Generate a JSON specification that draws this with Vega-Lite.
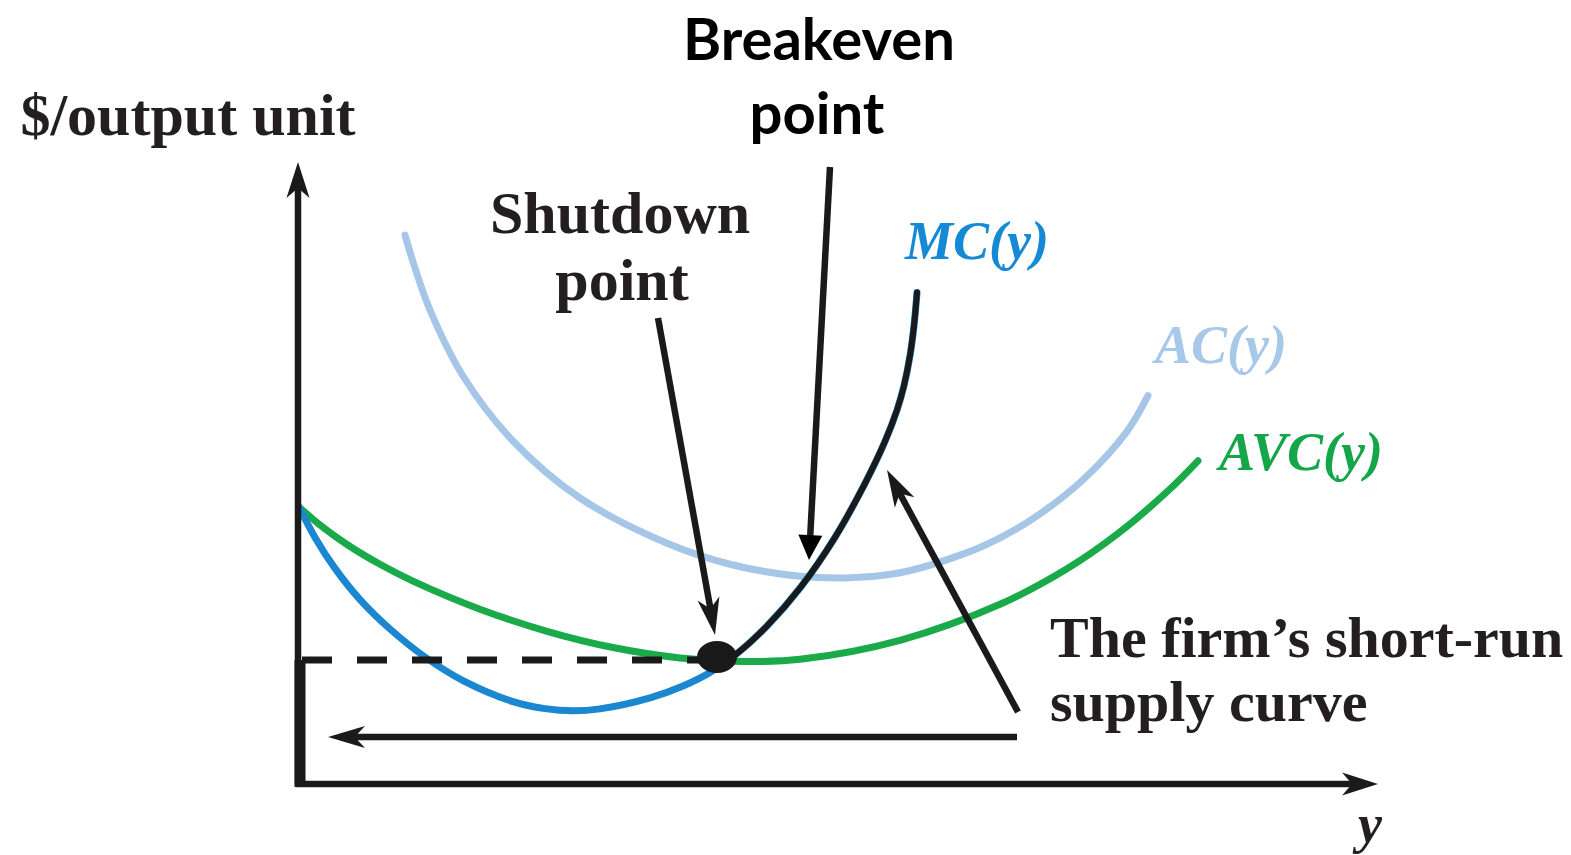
{
  "$schema": "https://vega.github.io/schema/vega-lite/v6.json",
  "width": 1571,
  "height": 855,
  "autosize": {"type": "fit", "contains": "padding"},
  "padding": 0,
  "background": "white",
  "config": {"view": {"stroke": null}},
  "datasets": {
    "curves": [
      {"series": "AC", "x": 1.07, "y": 5.49},
      {"series": "AC", "x": 1.17, "y": 5.16},
      {"series": "AC", "x": 1.32, "y": 4.74},
      {"series": "AC", "x": 1.65, "y": 4.08},
      {"series": "AC", "x": 2.15, "y": 3.43},
      {"series": "AC", "x": 2.82, "y": 2.86},
      {"series": "AC", "x": 3.69, "y": 2.408},
      {"series": "AC", "x": 4.35, "y": 2.19},
      {"series": "AC", "x": 5.02, "y": 2.078},
      {"series": "AC", "x": 5.52, "y": 2.063},
      {"series": "AC", "x": 6.02, "y": 2.113},
      {"series": "AC", "x": 6.69, "y": 2.314},
      {"series": "AC", "x": 7.02, "y": 2.462},
      {"series": "AC", "x": 7.35, "y": 2.653},
      {"series": "AC", "x": 7.85, "y": 3.043},
      {"series": "AC", "x": 8.29, "y": 3.527},
      {"series": "AC", "x": 8.5, "y": 3.884},
      {"series": "AVC", "x": 0.01, "y": 2.77},
      {"series": "AVC", "x": 0.22, "y": 2.59},
      {"series": "AVC", "x": 0.49, "y": 2.395},
      {"series": "AVC", "x": 0.82, "y": 2.197},
      {"series": "AVC", "x": 1.15, "y": 2.029},
      {"series": "AVC", "x": 1.82, "y": 1.748},
      {"series": "AVC", "x": 2.49, "y": 1.527},
      {"series": "AVC", "x": 3.15, "y": 1.365},
      {"series": "AVC", "x": 3.82, "y": 1.261},
      {"series": "AVC", "x": 4.47, "y": 1.225},
      {"series": "AVC", "x": 5.02, "y": 1.247},
      {"series": "AVC", "x": 6.02, "y": 1.437},
      {"series": "AVC", "x": 7.02, "y": 1.797},
      {"series": "AVC", "x": 7.69, "y": 2.152},
      {"series": "AVC", "x": 8.19, "y": 2.497},
      {"series": "AVC", "x": 8.69, "y": 2.922},
      {"series": "AVC", "x": 9.0, "y": 3.232},
      {"series": "MC", "x": 0.01, "y": 2.77},
      {"series": "MC", "x": 0.17, "y": 2.466},
      {"series": "MC", "x": 0.37, "y": 2.156},
      {"series": "MC", "x": 0.62, "y": 1.844},
      {"series": "MC", "x": 0.92, "y": 1.55},
      {"series": "MC", "x": 1.27, "y": 1.27},
      {"series": "MC", "x": 1.65, "y": 1.034},
      {"series": "MC", "x": 2.15, "y": 0.824},
      {"series": "MC", "x": 2.47, "y": 0.754},
      {"series": "MC", "x": 2.75, "y": 0.732},
      {"series": "MC", "x": 3.02, "y": 0.751},
      {"series": "MC", "x": 3.52, "y": 0.861},
      {"series": "MC", "x": 3.85, "y": 0.98},
      {"series": "MC", "x": 4.12, "y": 1.115},
      {"series": "MC", "x": 4.39, "y": 1.304},
      {"series": "MC", "x": 4.69, "y": 1.58},
      {"series": "MC", "x": 5.02, "y": 1.96},
      {"series": "MC", "x": 5.37, "y": 2.467},
      {"series": "MC", "x": 5.67, "y": 3.007},
      {"series": "MC", "x": 5.87, "y": 3.427},
      {"series": "MC", "x": 5.99, "y": 3.739},
      {"series": "MC", "x": 6.06, "y": 3.984},
      {"series": "MC", "x": 6.12, "y": 4.284},
      {"series": "MC", "x": 6.16, "y": 4.584},
      {"series": "MC", "x": 6.19, "y": 4.914},
      {"series": "Supply", "x": 4.19, "y": 1.17},
      {"series": "Supply", "x": 4.39, "y": 1.304},
      {"series": "Supply", "x": 4.69, "y": 1.58},
      {"series": "Supply", "x": 5.02, "y": 1.96},
      {"series": "Supply", "x": 5.37, "y": 2.467},
      {"series": "Supply", "x": 5.67, "y": 3.007},
      {"series": "Supply", "x": 5.87, "y": 3.427},
      {"series": "Supply", "x": 5.99, "y": 3.739},
      {"series": "Supply", "x": 6.06, "y": 3.984},
      {"series": "Supply", "x": 6.12, "y": 4.284},
      {"series": "Supply", "x": 6.16, "y": 4.584},
      {"series": "Supply", "x": 6.19, "y": 4.914},
      {"series": "ShutdownPrice", "x": 0.04, "y": 1.24},
      {"series": "ShutdownPrice", "x": 4.19, "y": 1.24}
    ],
    "segments": [
      {"segment": "Supply at zero output", "x": 0.02, "y": 1.24, "x2": 0.02, "y2": -0.03}
    ],
    "arrows": [
      {"arrow": "y axis", "x": 0, "y": 0, "x2": 0, "y2": 6.04, "tipx": 0, "tipy": 6.22},
      {"arrow": "x axis", "x": -0.02, "y": 0, "x2": 10.62, "y2": 0, "tipx": 10.8, "tipy": 0},
      {"arrow": "breakeven", "x": 5.32, "y": 6.17, "x2": 5.12, "y2": 2.44, "tipx": 5.11, "tipy": 2.24},
      {"arrow": "shutdown", "x": 3.6, "y": 4.66, "x2": 4.15, "y2": 1.61, "tipx": 4.17, "tipy": 1.49},
      {"arrow": "supply", "x": 7.2, "y": 0.72, "x2": 5.95, "y2": 3.03, "tipx": 5.89, "tipy": 3.14},
      {"arrow": "zero output", "x": 7.19, "y": 0.47, "x2": 0.42, "y2": 0.47, "tipx": 0.3, "tipy": 0.47}
    ],
    "points": [
      {"point": "Shutdown point", "x": 4.19, "y": 1.27}
    ],
    "labels": [
      {"kind": "serifCenter", "text": "$/output unit", "x": -1.1, "y": 6.49},
      {"kind": "serifCenter", "text": "Shutdown", "x": 3.22, "y": 5.51},
      {"kind": "serifCenter", "text": "point", "x": 3.24, "y": 4.84},
      {"kind": "serifLeft", "text": "The firm’s short-run", "x": 7.52, "y": 1.27},
      {"kind": "serifLeft", "text": "supply curve", "x": 7.52, "y": 0.63},
      {"kind": "sans", "text": "Breakeven", "x": 5.21, "y": 7.24},
      {"kind": "sans", "text": "point", "x": 5.19, "y": 6.5},
      {"kind": "italic", "text": "MC(y)", "x": 6.79, "y": 5.25},
      {"kind": "italic", "text": "AC(y)", "x": 9.23, "y": 4.21},
      {"kind": "italic", "text": "AVC(y)", "x": 10.03, "y": 3.14},
      {"kind": "italic", "text": "y", "x": 10.72, "y": -0.58}
    ]
  },
  "encoding": {
    "x": {"field": "x", "type": "quantitative", "scale": {"domain": [-2.98, 12.73], "nice": false, "zero": false}, "axis": null},
    "y": {"field": "y", "type": "quantitative", "scale": {"domain": [-0.71, 7.84], "nice": false, "zero": false}, "axis": null}
  },
  "layer": [
    {
      "data": {"name": "curves"},
      "transform": [{"filter": "datum.series === 'AC'"}],
      "mark": {"type": "line", "color": "#a6c6e8", "strokeWidth": 7, "interpolate": "catmull-rom", "strokeCap": "round"}
    },
    {
      "data": {"name": "curves"},
      "transform": [{"filter": "datum.series === 'AVC'"}],
      "mark": {"type": "line", "color": "#1aaa4a", "strokeWidth": 7, "interpolate": "catmull-rom", "strokeCap": "round"}
    },
    {
      "data": {"name": "curves"},
      "transform": [{"filter": "datum.series === 'MC'"}],
      "mark": {"type": "line", "color": "#1a87d0", "strokeWidth": 7, "interpolate": "catmull-rom", "strokeCap": "round"}
    },
    {
      "data": {"name": "curves"},
      "transform": [{"filter": "datum.series === 'ShutdownPrice'"}],
      "mark": {"type": "line", "color": "#1a1a1a", "strokeWidth": 7, "strokeDash": [30, 25]}
    },
    {
      "data": {"name": "curves"},
      "transform": [{"filter": "datum.series === 'Supply'"}],
      "mark": {"type": "line", "color": "#1a1a1a", "strokeWidth": 6, "interpolate": "catmull-rom", "strokeCap": "round"}
    },
    {
      "data": {"name": "segments"},
      "mark": {"type": "rule", "color": "#1a1a1a", "strokeWidth": 11},
      "encoding": {"x2": {"field": "x2"}, "y2": {"field": "y2"}}
    },
    {
      "data": {"name": "arrows"},
      "mark": {"type": "rule", "color": "#1a1a1a", "strokeWidth": 6.5},
      "encoding": {"x2": {"field": "x2"}, "y2": {"field": "y2"}}
    },
    {
      "data": {"name": "arrows"},
      "transform": [{"filter": "datum.arrow === 'y axis'"}],
      "mark": {"type": "point", "shape": "M0,0L0.32,1L0,0.72L-0.32,1Z", "size": 5184, "angle": 0, "filled": true, "color": "#1a1a1a", "opacity": 1, "strokeWidth": 0},
      "encoding": {"x": {"field": "tipx", "type": "quantitative", "axis": null}, "y": {"field": "tipy", "type": "quantitative", "axis": null}}
    },
    {
      "data": {"name": "arrows"},
      "transform": [{"filter": "datum.arrow === 'x axis'"}],
      "mark": {"type": "point", "shape": "M0,0L0.32,1L0,0.72L-0.32,1Z", "size": 5184, "angle": 90, "filled": true, "color": "#1a1a1a", "opacity": 1, "strokeWidth": 0},
      "encoding": {"x": {"field": "tipx", "type": "quantitative", "axis": null}, "y": {"field": "tipy", "type": "quantitative", "axis": null}}
    },
    {
      "data": {"name": "arrows"},
      "transform": [{"filter": "datum.arrow === 'breakeven'"}],
      "mark": {"type": "point", "shape": "M0,0L0.48,1L-0.48,1Z", "size": 2500, "angle": 183.04, "filled": true, "color": "#000000", "opacity": 1, "strokeWidth": 0},
      "encoding": {"x": {"field": "tipx", "type": "quantitative", "axis": null}, "y": {"field": "tipy", "type": "quantitative", "axis": null}}
    },
    {
      "data": {"name": "arrows"},
      "transform": [{"filter": "datum.arrow === 'shutdown'"}],
      "mark": {"type": "point", "shape": "M0,0L0.3,1L0,0.72L-0.3,1Z", "size": 5476, "angle": 169.8, "filled": true, "color": "#1a1a1a", "opacity": 1, "strokeWidth": 0},
      "encoding": {"x": {"field": "tipx", "type": "quantitative", "axis": null}, "y": {"field": "tipy", "type": "quantitative", "axis": null}}
    },
    {
      "data": {"name": "arrows"},
      "transform": [{"filter": "datum.arrow === 'supply'"}],
      "mark": {"type": "point", "shape": "M0,0L0.3,1L0,0.72L-0.3,1Z", "size": 5476, "angle": 331.6, "filled": true, "color": "#1a1a1a", "opacity": 1, "strokeWidth": 0},
      "encoding": {"x": {"field": "tipx", "type": "quantitative", "axis": null}, "y": {"field": "tipy", "type": "quantitative", "axis": null}}
    },
    {
      "data": {"name": "arrows"},
      "transform": [{"filter": "datum.arrow === 'zero output'"}],
      "mark": {"type": "point", "shape": "M0,0L0.3,1L0,0.72L-0.3,1Z", "size": 5476, "angle": 270, "filled": true, "color": "#1a1a1a", "opacity": 1, "strokeWidth": 0},
      "encoding": {"x": {"field": "tipx", "type": "quantitative", "axis": null}, "y": {"field": "tipy", "type": "quantitative", "axis": null}}
    },
    {
      "data": {"name": "points"},
      "mark": {"type": "point", "shape": "M-1,0A1,0.8 0 1,0 1,0A1,0.8 0 1,0 -1,0Z", "size": 1600, "filled": true, "color": "#1a1a1a", "opacity": 1, "strokeWidth": 0}
    },
    {
      "data": {"name": "labels"},
      "transform": [{"filter": "datum.kind === 'serifCenter'"}],
      "mark": {"type": "text", "font": "Liberation Serif", "fontWeight": "bold", "fontSize": 60, "align": "center", "baseline": "alphabetic", "color": "#231f20"},
      "encoding": {"text": {"field": "text"}}
    },
    {
      "data": {"name": "labels"},
      "transform": [{"filter": "datum.kind === 'serifLeft'"}],
      "mark": {"type": "text", "font": "Liberation Serif", "fontWeight": "bold", "fontSize": 58, "align": "left", "baseline": "alphabetic", "color": "#231f20"},
      "encoding": {"text": {"field": "text"}}
    },
    {
      "data": {"name": "labels"},
      "transform": [{"filter": "datum.kind === 'sans'"}],
      "mark": {"type": "text", "font": "Lato", "fontWeight": "bold", "fontSize": 58, "align": "center", "baseline": "alphabetic", "color": "#000000"},
      "encoding": {"text": {"field": "text"}}
    },
    {
      "data": {"name": "labels"},
      "transform": [{"filter": "datum.kind === 'italic'"}],
      "mark": {"type": "text", "font": "Liberation Serif", "fontWeight": "bold", "fontStyle": "italic", "fontSize": 54, "align": "center", "baseline": "alphabetic"},
      "encoding": {
        "text": {"field": "text"},
        "color": {"field": "text", "type": "nominal", "scale": {"domain": ["MC(y)", "AC(y)", "AVC(y)", "y"], "range": ["#1589d6", "#a8c8ea", "#16a64a", "#231f20"]}, "legend": null}
      }
    }
  ]
}
